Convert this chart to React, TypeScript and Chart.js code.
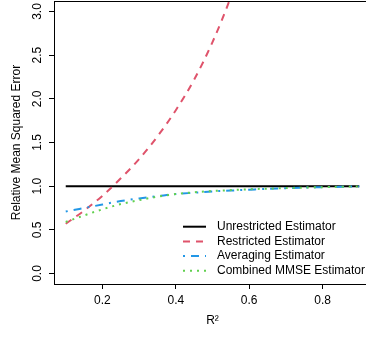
import React, { useEffect, useRef } from 'react';
import { Chart, registerables } from 'chart.js';
Chart.register(...registerables);

const r2 = [0.1, 0.15, 0.2, 0.25, 0.3, 0.35, 0.4, 0.45, 0.5, 0.55, 0.6, 0.65, 0.7, 0.75, 0.8, 0.85, 0.9];
const unrestricted = [1, 1, 1, 1, 1, 1, 1, 1, 1, 1, 1, 1, 1, 1, 1, 1, 1];
const restricted = [0.57, 0.72, 0.89, 1.09, 1.31, 1.57, 1.87, 2.22, 2.65, 3.17, 3.82, 4.66, 5.77, 7.33, 9.67, 13.57, 21.37];
const averaging = [0.71, 0.75, 0.79, 0.83, 0.86, 0.885, 0.91, 0.925, 0.94, 0.95, 0.96, 0.97, 0.977, 0.983, 0.988, 0.993, 0.997];
const combined = [0.59, 0.665, 0.735, 0.795, 0.84, 0.88, 0.91, 0.93, 0.945, 0.955, 0.965, 0.972, 0.978, 0.984, 0.989, 0.993, 0.997];
const seriesNames = ['Unrestricted Estimator', 'Restricted Estimator', 'Averaging Estimator', 'Combined MMSE Estimator'];
const xTicks = [0.2, 0.4, 0.6, 0.8];
const yTicks = [0, 0.5, 1, 1.5, 2, 2.5, 3];
const xTitle = 'R\u00B2';
const yTitle = 'Relative Mean Squared Error';

const FONT = '"Liberation Sans", Arial, sans-serif';

const boxLegend = {
  id: 'boxLegend',
  afterDatasetsDraw(chart: any) {
    const { ctx, chartArea: a } = chart;
    ctx.save();
    ctx.strokeStyle = '#000';
    ctx.lineWidth = 1;
    ctx.setLineDash([]);
    ctx.strokeRect(Math.round(a.left) + 0.5, Math.round(a.top) + 0.5, Math.round(a.right - a.left), Math.round(a.bottom - a.top));
    const x0 = 183, x1 = 206, tx = 217, y0 = 226.7, dy = 14.7;
    ctx.font = '12px ' + FONT;
    ctx.textBaseline = 'middle';
    ctx.textAlign = 'left';
    chart.data.datasets.forEach((ds: any, i: number) => {
      const y = y0 + i * dy;
      ctx.beginPath();
      ctx.setLineDash(ds.borderDash || []);
      ctx.strokeStyle = ds.borderColor;
      ctx.lineWidth = ds.borderWidth;
      ctx.moveTo(x0, y);
      ctx.lineTo(x1, y);
      ctx.stroke();
      ctx.setLineDash([]);
      ctx.fillStyle = '#000';
      ctx.fillText(ds.label, tx, y);
    });
    ctx.restore();
  },
};

const zeroPad = (s: any) => {
  s.paddingTop = 0;
  s.paddingBottom = 0;
  s.paddingLeft = 0;
  s.paddingRight = 0;
};

export default function App() {
  const ref = useRef<HTMLCanvasElement>(null);
  useEffect(() => {
    const canvas = ref.current!;
    const mk = (ys: number[]) => r2.map((x, i) => ({ x, y: ys[i] }));
    const colors = ['#000000', '#DF536B', '#2297E6', '#61D04F'];
    const dashes = [[], [7, 6], [2, 6, 8, 6], [2, 5]];
    const all = [unrestricted, restricted, averaging, combined];
    const chart = new Chart(canvas, {
      type: 'line',
      data: {
        datasets: all.map((ys, i) => ({
          label: seriesNames[i],
          data: mk(ys),
          borderColor: colors[i],
          borderWidth: 2,
          borderDash: dashes[i],
          pointRadius: 0,
          fill: false,
          cubicInterpolationMode: 'monotone' as const,
          order: 4 - i,
        })),
      },
      options: {
        animation: false,
        responsive: false,
        devicePixelRatio: 1,
        layout: { padding: { left: 0, top: 1, right: 9, bottom: 0 } },
        plugins: { legend: { display: false }, tooltip: { enabled: false } },
        scales: {
          x: {
            type: 'linear',
            min: 0.068,
            max: 0.932,
            afterBuildTicks: (s: any) => { s.ticks = xTicks.map((v) => ({ value: v })); },
            afterFit: (s: any) => { s.height = 53; zeroPad(s); },
            ticks: {
              autoSkip: false,
              maxRotation: 0,
              padding: 4,
              color: '#000',
              font: { family: FONT, size: 12 },
              callback: (v: any) => Number(v).toFixed(1),
            },
            grid: { drawOnChartArea: false, drawTicks: true, tickLength: 5, color: '#000' },
            border: { display: false },
            title: { display: true, text: xTitle, color: '#000', font: { family: FONT, size: 12 }, padding: { top: 0, bottom: 9 } },
          },
          y: {
            type: 'linear',
            min: -0.12,
            max: 3.12,
            afterBuildTicks: (s: any) => { s.ticks = yTicks.map((v) => ({ value: v })); },
            afterFit: (s: any) => { s.width = 54; zeroPad(s); },
            ticks: {
              autoSkip: false,
              minRotation: 90,
              maxRotation: 90,
              crossAlign: 'center',
              padding: 3,
              color: '#000',
              font: { family: FONT, size: 12 },
              callback: (v: any) => Number(v).toFixed(1),
            },
            grid: { drawOnChartArea: false, drawTicks: true, tickLength: 5, color: '#000' },
            border: { display: false },
            title: { display: true, text: yTitle, color: '#000', font: { family: FONT, size: 12 }, padding: { top: 9, bottom: 0 } },
          },
        },
      },
      plugins: [boxLegend],
    });
    return () => chart.destroy();
  }, []);
  return (
    <div style={{ position: 'absolute', left: 0, top: 0, width: 366, height: 337, overflow: 'hidden', background: '#fff' }}>
      <canvas ref={ref} width={380} height={337} style={{ display: 'block' }} />
    </div>
  );
}
